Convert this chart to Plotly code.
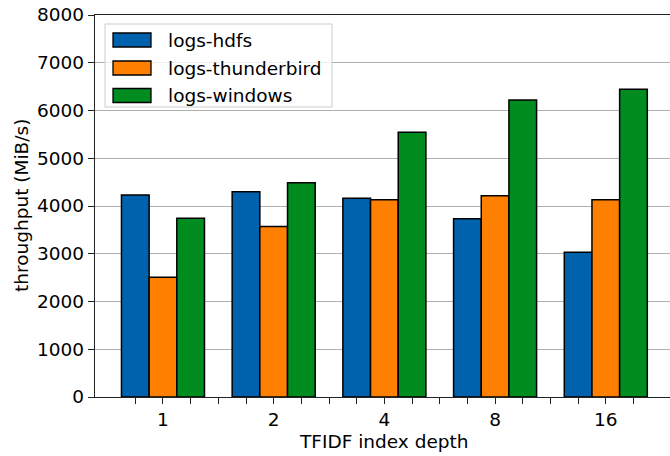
import plotly.graph_objects as go

depths = ["1", "2", "4", "8", "16"]
series_names = ["logs-hdfs", "logs-thunderbird", "logs-windows"]
hdfs = [4230, 4300, 4160, 3735, 3030]
thunderbird = [2510, 3570, 4130, 4215, 4130]
windows = [3745, 4485, 5545, 6220, 6445]
y_ticks = [0, 1000, 2000, 3000, 4000, 5000, 6000, 7000, 8000]

colors = ["#0062ad", "#ff8000", "#008c1e"]
values = [hdfs, thunderbird, windows]
xpos = list(range(len(depths)))

FONT = "DejaVu Sans"
FS = 18.5
W, H = 670, 456
L, R, T, B = 95, 0, 15, 59

fig = go.Figure()
for name, vals, c in zip(series_names, values, colors):
    fig.add_trace(go.Bar(
        x=xpos, y=vals, name=name,
        marker=dict(color=c, line=dict(color="black", width=1.5)),
        showlegend=False,
    ))

minor_vals = []
for i in xpos:
    for off in (-0.25, 0.25, 0.5):
        v = i + off
        if v <= len(depths) - 1 + 0.25:
            minor_vals.append(v)

fig.update_layout(
    width=W, height=H,
    margin=dict(l=L, r=R, t=T, b=B, autoexpand=False),
    plot_bgcolor="white", paper_bgcolor="white",
    barmode="group", bargap=0.25, bargroupgap=0,
    font=dict(family=FONT, size=FS, color="black"),
    xaxis=dict(
        range=[-0.614, 4.580], tickmode="array", tickvals=xpos, ticktext=depths,
        ticks="outside", ticklen=6, tickwidth=1.3, tickcolor="#222",
        showline=True, linecolor="#222", linewidth=1.3, mirror=True,
        showgrid=False, zeroline=False, automargin=False,
        minor=dict(tickmode="array", tickvals=minor_vals, ticks="outside", ticklen=6,
                   tickwidth=1.3, tickcolor="#222", showgrid=False),
        tickfont=dict(size=FS),
    ),
    yaxis=dict(
        range=[0, 8000], tickmode="array", tickvals=y_ticks,
        ticks="outside", ticklen=6, tickwidth=1.3, tickcolor="#222",
        showline=True, linecolor="#222", linewidth=1.3,
        showgrid=True, gridcolor="#b0b0b0", gridwidth=1.3, zeroline=False,
        automargin=False,
        tickfont=dict(size=FS),
    ),
)

def px_x(p):
    return (p - L) / (W - L - R)

def px_y(p):
    return 1 - (p - T) / (H - T - B)

# axis titles
fig.add_annotation(xref="paper", yref="paper", x=px_x(384), y=px_y(441),
                   text="TFIDF index depth", showarrow=False,
                   xanchor="center", yanchor="middle", font=dict(size=FS))
fig.add_annotation(xref="paper", yref="paper", x=px_x(21), y=px_y(206),
                   text="throughput (MiB/s)", showarrow=False, textangle=-90,
                   xanchor="center", yanchor="middle", font=dict(size=FS))

# custom legend (matplotlib-like)
fig.add_shape(type="rect", xref="paper", yref="paper",
              x0=px_x(105), x1=px_x(332), y0=px_y(107), y1=px_y(24),
              fillcolor="rgba(255,255,255,0.8)", line=dict(color="#cccccc", width=1), layer="above")
row_y = [40, 68, 95.5]
for name, c, yy in zip(series_names, colors, row_y):
    fig.add_shape(type="rect", xref="paper", yref="paper",
                  x0=px_x(113), x1=px_x(151), y0=px_y(yy + 7), y1=px_y(yy - 7),
                  fillcolor=c, line=dict(color="black", width=1.3), layer="above")
    fig.add_annotation(xref="paper", yref="paper", x=px_x(166), y=px_y(yy),
                       text=name, showarrow=False, xanchor="left", yanchor="middle",
                       font=dict(family=FONT, size=FS, color="black"))

fig.write_html("out.html", config={"displayModeBar": False},
               post_script="document.body.style.margin='0px';document.body.style.overflow='hidden';")
